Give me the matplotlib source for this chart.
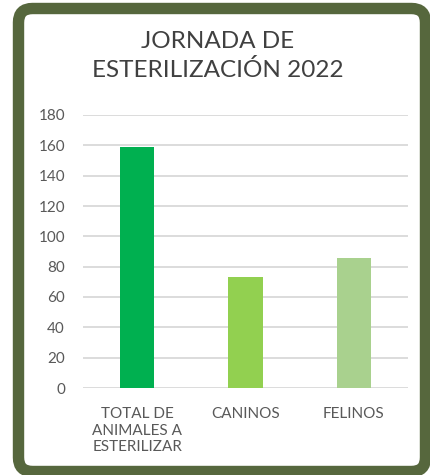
import matplotlib.pyplot as plt
from matplotlib.patches import FancyBboxPatch

# data
categories = ['TOTAL DE\nANIMALES A\nESTERILIZAR', 'CANINOS', 'FELINOS']
values = [159, 73, 86]
bar_colors = ['#00B050', '#92D050', '#A9D18E']
title = 'JORNADA DE\nESTERILIZACIÓN 2022'

plt.rcParams['font.family'] = ['Lato', 'DejaVu Sans']
text_color = '#595959'

W, H = 431, 475
fig = plt.figure(figsize=(W / 100, H / 100), dpi=100)

# background frame (pixel coordinates)
bg = fig.add_axes([0, 0, 1, 1])
bg.set_xlim(0, W)
bg.set_ylim(H, 0)
bg.axis('off')
frame = FancyBboxPatch((18.5, 8.5), 407, 463, boxstyle='round,pad=0,rounding_size=14',
                       linewidth=8.2, edgecolor='#56673D', facecolor='white')
bg.add_patch(frame)
bg.text(218, 56, title, ha='center', va='center', fontsize=17.5, color='#404040',
        linespacing=1.4)

# chart
ax = fig.add_axes([83 / W, (H - 388) / H, 325 / W, 273 / H])
x = range(len(categories))
ax.bar(x, values, width=0.315, color=bar_colors, zorder=3)
ax.set_xlim(-0.5, 2.5)
ax.set_ylim(0, 180)
ax.set_yticks(range(0, 181, 20))
ax.set_xticks(list(x))
ax.set_xticklabels(categories, fontsize=11, color=text_color, linespacing=1.2)
ax.tick_params(axis='y', labelsize=11, labelcolor=text_color, length=0, pad=13)
ax.tick_params(axis='x', length=0, pad=14)
ax.grid(axis='y', color='#D9D9D9', linewidth=1.3, zorder=0)
for s in ax.spines.values():
    s.set_visible(False)
ax.patch.set_alpha(0)

fig.savefig('out.png', dpi=100)
